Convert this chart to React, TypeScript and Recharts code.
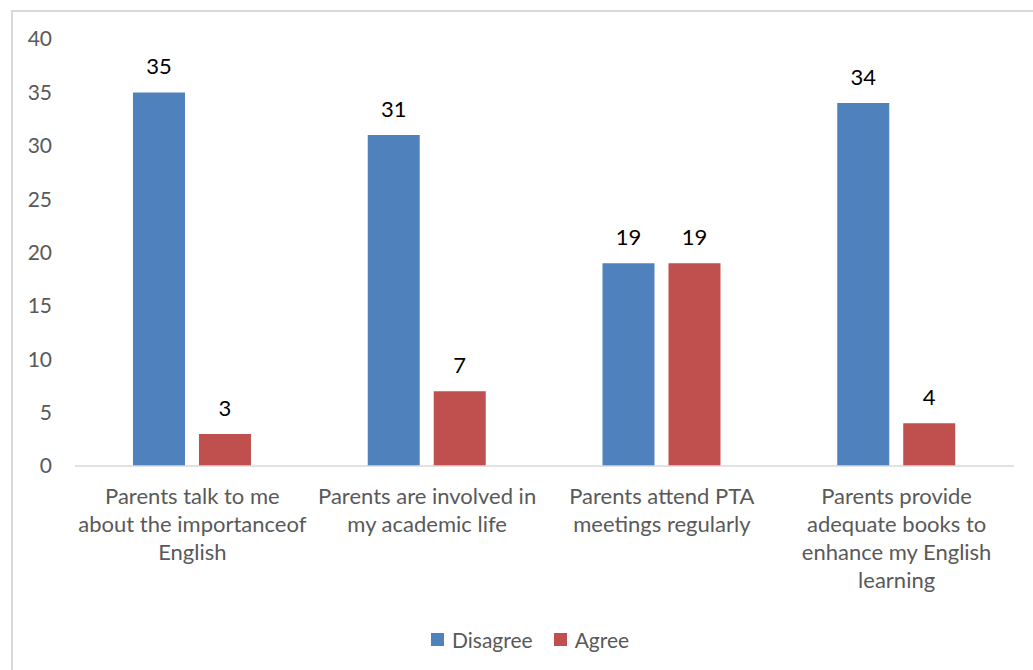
import { Bar, BarChart, LabelList, Legend, XAxis, YAxis } from "recharts";

const categories = [
  "Parents talk to me\nabout the importanceof\nEnglish",
  "Parents are involved in\nmy academic life",
  "Parents attend PTA\nmeetings regularly",
  "Parents provide\nadequate books to\nenhance my English\nlearning",
];
const disagree = [35, 31, 19, 34];
const agree = [3, 7, 19, 4];
const yTicks = [0, 5, 10, 15, 20, 25, 30, 35, 40];

const series = [
  { key: "Disagree", color: "#4f81bd" },
  { key: "Agree", color: "#c0504d" },
];

const data = categories.map((name, i) => ({
  name,
  Disagree: disagree[i],
  Agree: agree[i],
}));

const FONT = "Lato, 'Open Sans', sans-serif";
const GREY = "#595959";

function CategoryTick({ x, y, payload }: any) {
  const lines = String(payload.value).split("\n");
  return (
    <text x={x} y={y} textAnchor="middle" fill={GREY} fontSize={22} fontFamily={FONT}>
      {lines.map((line, i) => (
        <tspan key={i} x={x} dy={i === 0 ? 30 : 28}>
          {line}
        </tspan>
      ))}
    </text>
  );
}

function LegendContent() {
  return (
    <div style={{ display: "flex", alignItems: "center", height: 24, fontFamily: FONT, fontSize: 21, color: GREY }}>
      {series.map((s, i) => (
        <div key={s.key} style={{ display: "flex", alignItems: "center", marginRight: i === 0 ? 21 : 0 }}>
          <span style={{ width: 13, height: 13, background: s.color, display: "inline-block", marginRight: 8 }} />
          <span>{s.key}</span>
        </div>
      ))}
    </div>
  );
}

export default function App() {
  return (
    <div style={{ position: "fixed", left: 0, top: 0, width: 1033, height: 670, overflow: "hidden", background: "#fff" }}>
      <div
        style={{
          position: "absolute",
          left: 11,
          top: 10,
          width: 1030,
          height: 670,
          borderLeft: "2px solid #d9d9d9",
          borderTop: "2px solid #d9d9d9",
        }}
      >
        <BarChart
          width={1020}
          height={656}
          data={data}
          margin={{ top: 27, right: 19, left: 22, bottom: 0 }}
          barCategoryGap="24.7%"
          barGap={14}
        >
          <XAxis
            dataKey="name"
            interval={0}
            height={202}
            axisLine={{ stroke: "#d9d9d9", strokeWidth: 1.5 }}
            tickLine={false}
            tick={<CategoryTick />}
          />
          <YAxis
            width={40}
            domain={[0, 40]}
            ticks={yTicks}
            axisLine={false}
            tickLine={false}
            tickMargin={17}
            tick={{ fill: GREY, fontSize: 21, fontFamily: FONT }}
          />
          <Legend
            verticalAlign="middle"
            content={<LegendContent />}
            wrapperStyle={{ top: 615, left: 418, width: "auto", height: 24 }}
          />
          {series.map((s) => (
            <Bar key={s.key} dataKey={s.key} fill={s.color} isAnimationActive={false}>
              <LabelList dataKey={s.key} position="top" offset={18} fill="#000" fontSize={22} fontFamily={FONT} />
            </Bar>
          ))}
        </BarChart>
      </div>
    </div>
  );
}
